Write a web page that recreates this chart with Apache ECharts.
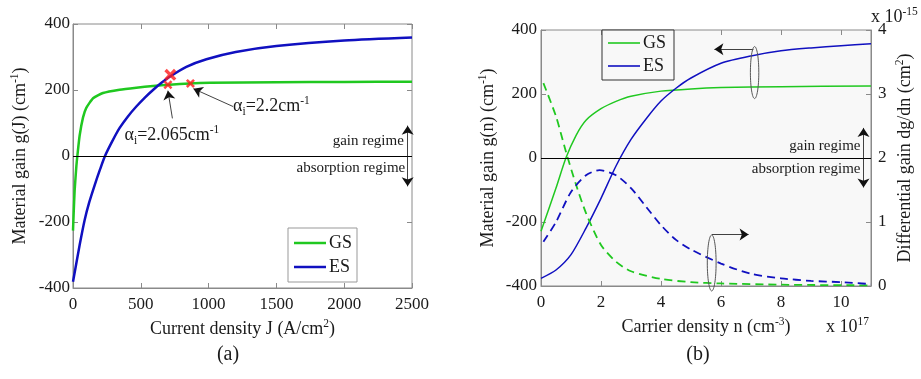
<!DOCTYPE html>
<html><head><meta charset="utf-8">
<script src="https://cdn.jsdelivr.net/npm/echarts@6/dist/echarts.min.js"></script>
<style>html,body{margin:0;padding:0;background:#fff}#c{width:921px;height:379px}</style>
</head><body><div id="c"></div>
<script>
// ---------- (a) material gain vs current density ----------
const J_gs = [0, 5, 12, 25, 32, 49, 74, 98, 148, 221, 344, 467, 590, 713, 861, 1009, 1500, 2000, 2500];
const g_gs = [-226, -172, -105, -30, 0, 62, 117, 146, 175, 191, 201, 207, 212, 216, 220, 222, 223.5, 224.5, 225];
const J_es = [0, 49, 86, 120, 160, 200, 236, 290, 344, 405, 467, 530, 590, 650, 713, 836, 984, 1200, 1500, 2000, 2500];
const g_es = [-381, -270, -194, -140, -88, -40, 0, 45, 85, 120, 150, 177, 200, 221, 240, 270, 293, 315, 333, 350, 359];
const mark_big_J = [718], mark_big_g = [246];
const mark_J = [700, 866], mark_g = [216, 220];
const xTicksA = [0, 500, 1000, 1500, 2000, 2500];
const yTicks = [-400, -200, 0, 200, 400];

// ---------- (b) material gain & differential gain vs carrier density (x 1e17 cm^-3) ----------
const n_gs = [0, 0.5, 0.83, 1.17, 1.5, 2, 2.5, 3, 4, 5, 6, 8, 11];
const gn_gs = [-229, -94, 0, 71, 118, 154, 177, 193, 209, 216, 220, 223, 225];
const n_es = [0, 0.5, 1, 1.5, 2, 2.5, 3, 3.5, 4, 4.5, 5, 6, 7, 8, 9, 10, 11];
const gn_es = [-376, -350, -302, -219, -126, -25, 58, 122, 178, 218, 250, 296, 319, 335, 344, 351, 357];
// differential gain, units of 1e-15 cm^2
const nd_gs = [0.08, 0.5, 0.83, 1.17, 1.5, 2, 2.5, 3, 4, 5, 6, 8, 11];
const dg_gs = [3.17, 2.65, 2.10, 1.58, 1.14, 0.64, 0.38, 0.23, 0.11, 0.06, 0.04, 0.02, 0.01];
const nd_es = [0.08, 0.5, 1, 1.5, 1.95, 2.5, 3, 3.5, 4, 4.5, 5, 6, 7, 8, 9, 10, 11];
const dg_es = [0.69, 1.0, 1.47, 1.73, 1.81, 1.73, 1.53, 1.24, 0.95, 0.72, 0.57, 0.35, 0.19, 0.12, 0.08, 0.06, 0.03];

const zip = (a, b) => a.map((v, i) => [v, b[i]]);
const FONT = 'Liberation Serif';
const TXT = '#1a1a1a';
const GREEN = '#20c820', BLUE = '#1010c0', RED = '#ff1a1a', FRAME = '#8a8a8a';
const rich = {
  n: {fontFamily: FONT, fontSize: 18, color: TXT, lineHeight: 23},
  sup: {fontFamily: FONT, fontSize: 11.5, color: TXT, verticalAlign: 'top', lineHeight: 11},
  sub: {fontFamily: FONT, fontSize: 11.5, color: TXT, verticalAlign: 'bottom', lineHeight: 11}
};
const XPATH = 'path://M2,0 L5,3 L8,0 L10,2 L7,5 L10,8 L8,10 L5,7 L2,10 L0,8 L3,5 L0,2 Z';
const plain = v => String(v);

function valAxis(o) {
  return Object.assign({
    type: 'value', splitLine: {show: false},
    axisLine: {show: true, onZero: false, lineStyle: {color: FRAME, width: 1}},
    axisTick: {show: true, inside: true, length: 5, lineStyle: {color: FRAME}},
    axisLabel: {fontFamily: FONT, fontSize: 17, color: TXT, formatter: plain},
    nameTextStyle: {fontFamily: FONT, fontSize: 18, color: TXT, rich: rich}
  }, o);
}
function mirror(o) {
  return valAxis(Object.assign({axisLabel: {show: false}, axisLine: {show: false, onZero: false}}, o));
}
const arrowLine = (a, b, sym) => [
  {coord: a, symbol: sym[0], symbolSize: 9},
  {coord: b, symbol: sym[1], symbolSize: 9, lineStyle: {color: '#111', width: 0.8, type: 'solid'}}
];
const zeroLine = {yAxis: 0, lineStyle: {color: '#000', width: 1, type: 'solid'}, symbol: 'none'};
const lineBase = {type: 'line', smooth: 0.25, showSymbol: false, z: 3};

const chart = echarts.init(document.getElementById('c'), null, {renderer: 'canvas'});
const option = {
  animation: false,
  backgroundColor: '#fff',
  grid: [
    {left: 73, top: 24, width: 339, height: 264, show: true, borderColor: FRAME, borderWidth: 1, backgroundColor: '#fff'},
    {left: 541, top: 30, width: 330, height: 256, show: true, borderColor: FRAME, borderWidth: 1, backgroundColor: '#f8f8f8'}
  ],
  xAxis: [
    valAxis({gridIndex: 0, min: xTicksA[0], max: xTicksA[xTicksA.length - 1], interval: 500,
      axisLabel: {fontFamily: FONT, fontSize: 17, color: TXT, margin: 8, formatter: plain},
      name: '{n|Current density J (A/cm}{sup|2}{n|)}', nameLocation: 'middle', nameGap: 29}),
    mirror({gridIndex: 0, position: 'top', min: 0, max: 2500, interval: 500}),
    valAxis({gridIndex: 1, min: 0, max: 11, interval: 2,
      axisLabel: {fontFamily: FONT, fontSize: 17, color: TXT, margin: 8, formatter: v => (v > 10 ? '' : String(v))},
      name: '{n|Carrier density n (cm}{sup|-3}{n|)}', nameLocation: 'middle', nameGap: 29}),
    mirror({gridIndex: 1, position: 'top', min: 0, max: 11, interval: 2})
  ],
  yAxis: [
    valAxis({gridIndex: 0, min: yTicks[0], max: yTicks[yTicks.length - 1], interval: 200,
      axisLabel: {fontFamily: FONT, fontSize: 17, color: TXT, margin: 3, formatter: plain},
      name: '{n|Material gain g(J) (cm}{sup|-1}{n|)}', nameLocation: 'middle', nameGap: 41, nameRotate: 90}),
    mirror({gridIndex: 0, position: 'right', min: -400, max: 400, interval: 200}),
    valAxis({gridIndex: 1, min: -400, max: 400, interval: 200,
      axisLabel: {fontFamily: FONT, fontSize: 17, color: TXT, margin: 4, formatter: plain},
      name: '{n|Material gain g(n) (cm}{sup|-1}{n|)}', nameLocation: 'middle', nameGap: 41, nameRotate: 90}),
    valAxis({gridIndex: 1, position: 'right', min: 0, max: 4, interval: 1,
      axisLabel: {fontFamily: FONT, fontSize: 17, color: TXT, margin: 7, formatter: plain},
      name: '{n|Differential gain dg/dn (cm}{sup|2}{n|)}', nameLocation: 'middle', nameGap: 23, nameRotate: 90})
  ],
  legend: [
    {data: ['GS', 'ES'], orient: 'vertical', left: 288, top: 228, padding: [6, 5, 6, 6], itemGap: 6,
      icon: 'rect', itemWidth: 32, itemHeight: 2.5, borderColor: '#999', borderWidth: 1, backgroundColor: '#fff',
      textStyle: {fontFamily: FONT, fontSize: 18, color: TXT, padding: [0, 0, 0, -2]}, selectedMode: false},
    {data: ['GS', 'ES'], orient: 'vertical', left: 602, top: 30, padding: [4, 8, 5, 6], itemGap: 5,
      icon: 'rect', itemWidth: 32, itemHeight: 1.6, borderColor: '#333', borderWidth: 1, backgroundColor: '#f8f8f8',
      textStyle: {fontFamily: FONT, fontSize: 18, color: TXT, padding: [0, 0, 0, -2]}, selectedMode: false}
  ],
  series: [
    Object.assign({}, lineBase, {name: 'GS', xAxisIndex: 0, yAxisIndex: 0, data: zip(J_gs, g_gs), smooth: 0.15,
      lineStyle: {color: GREEN, width: 2.5}, itemStyle: {color: GREEN},
      markLine: {silent: true, symbol: 'none', label: {show: false}, animation: false,
        data: [zeroLine,
          arrowLine([733, 114], [700, 198], ['none', 'arrow']),
          arrowLine([1180, 150], [888, 204], ['none', 'arrow']),
          arrowLine([2468, -92], [2468, 92], ['arrow', 'arrow'])]}}),
    Object.assign({}, lineBase, {name: 'ES', xAxisIndex: 0, yAxisIndex: 0, data: zip(J_es, g_es),
      lineStyle: {color: BLUE, width: 2.5}, itemStyle: {color: BLUE}}),
    {name: 'marks', type: 'scatter', xAxisIndex: 0, yAxisIndex: 0, data: zip(mark_J, mark_g), symbol: XPATH, symbolSize: 9,
      itemStyle: {color: RED}, z: 5},
    {name: 'marksBig', type: 'scatter', xAxisIndex: 0, yAxisIndex: 0, data: zip(mark_big_J, mark_big_g), symbol: XPATH, symbolSize: 12,
      itemStyle: {color: RED}, z: 5},
    Object.assign({}, lineBase, {name: 'GS', xAxisIndex: 2, yAxisIndex: 2, data: zip(n_gs, gn_gs),
      lineStyle: {color: GREEN, width: 1.5}, itemStyle: {color: GREEN},
      markLine: {silent: true, symbol: 'none', label: {show: false}, animation: false,
        data: [zeroLine,
          arrowLine([7.08, 340], [5.78, 340], ['none', 'arrow']),
          arrowLine([5.7, -239], [6.92, -239], ['none', 'arrow']),
          arrowLine([10.75, -92], [10.75, 94], ['arrow', 'arrow'])]}}),
    Object.assign({}, lineBase, {name: 'ES', xAxisIndex: 2, yAxisIndex: 2, data: zip(n_es, gn_es),
      lineStyle: {color: BLUE, width: 1.5}, itemStyle: {color: BLUE}}),
    Object.assign({}, lineBase, {name: 'GS dg/dn', xAxisIndex: 2, yAxisIndex: 3, data: zip(nd_gs, dg_gs),
      lineStyle: {color: GREEN, width: 1.8, type: [8, 5]}, itemStyle: {color: GREEN}}),
    Object.assign({}, lineBase, {name: 'ES dg/dn', xAxisIndex: 2, yAxisIndex: 3, data: zip(nd_es, dg_es),
      lineStyle: {color: BLUE, width: 1.8, type: [8, 5]}, itemStyle: {color: BLUE}})
  ]
};
chart.setOption(option);

const pA = (x, y) => chart.convertToPixel({xAxisIndex: 0, yAxisIndex: 0}, [x, y]);
const pB = (x, y) => chart.convertToPixel({xAxisIndex: 2, yAxisIndex: 2}, [x, y]);
function txt(pt, text, align, size) {
  return {type: 'text', x: pt[0], y: pt[1], z: 10,
    style: {text: text, align: align, verticalAlign: 'middle', fontFamily: FONT, fontSize: size || 15, fill: TXT, rich: rich}};
}
function ell(pt, rx, ry) {
  return {type: 'ellipse', shape: {cx: pt[0], cy: pt[1], rx: rx, ry: ry}, z: 10,
    style: {fill: 'none', stroke: '#555', lineWidth: 1}};
}
chart.setOption({
  graphic: [
    txt(pA(380, 62), '{n|α}{sub|i}{n|=2.065cm}{sup|-1}', 'left', 18),
    txt(pA(1180, 150), '{n|α}{sub|i}{n|=2.2cm}{sup|-1}', 'left', 18),
    txt(pA(2440, 45), 'gain regime', 'right', 15),
    txt(pA(2450, -38), 'absorption regime', 'right', 15),
    txt(pB(10.65, 37), 'gain regime', 'right', 15),
    txt(pB(10.65, -34), 'absorption regime', 'right', 15),
    ell(pB(7.12, 267), 4.2, 26),
    ell(pB(5.69, -328), 4.4, 28),
    txt([826, 327], '{n|x 10}{sup|17}', 'left', 17),
    txt([871, 17], '{n|x 10}{sup|-15}', 'left', 17),
    txt([228, 355], '(a)', 'center', 20),
    txt([698, 355], '(b)', 'center', 20)
  ]
});
</script></body></html>
